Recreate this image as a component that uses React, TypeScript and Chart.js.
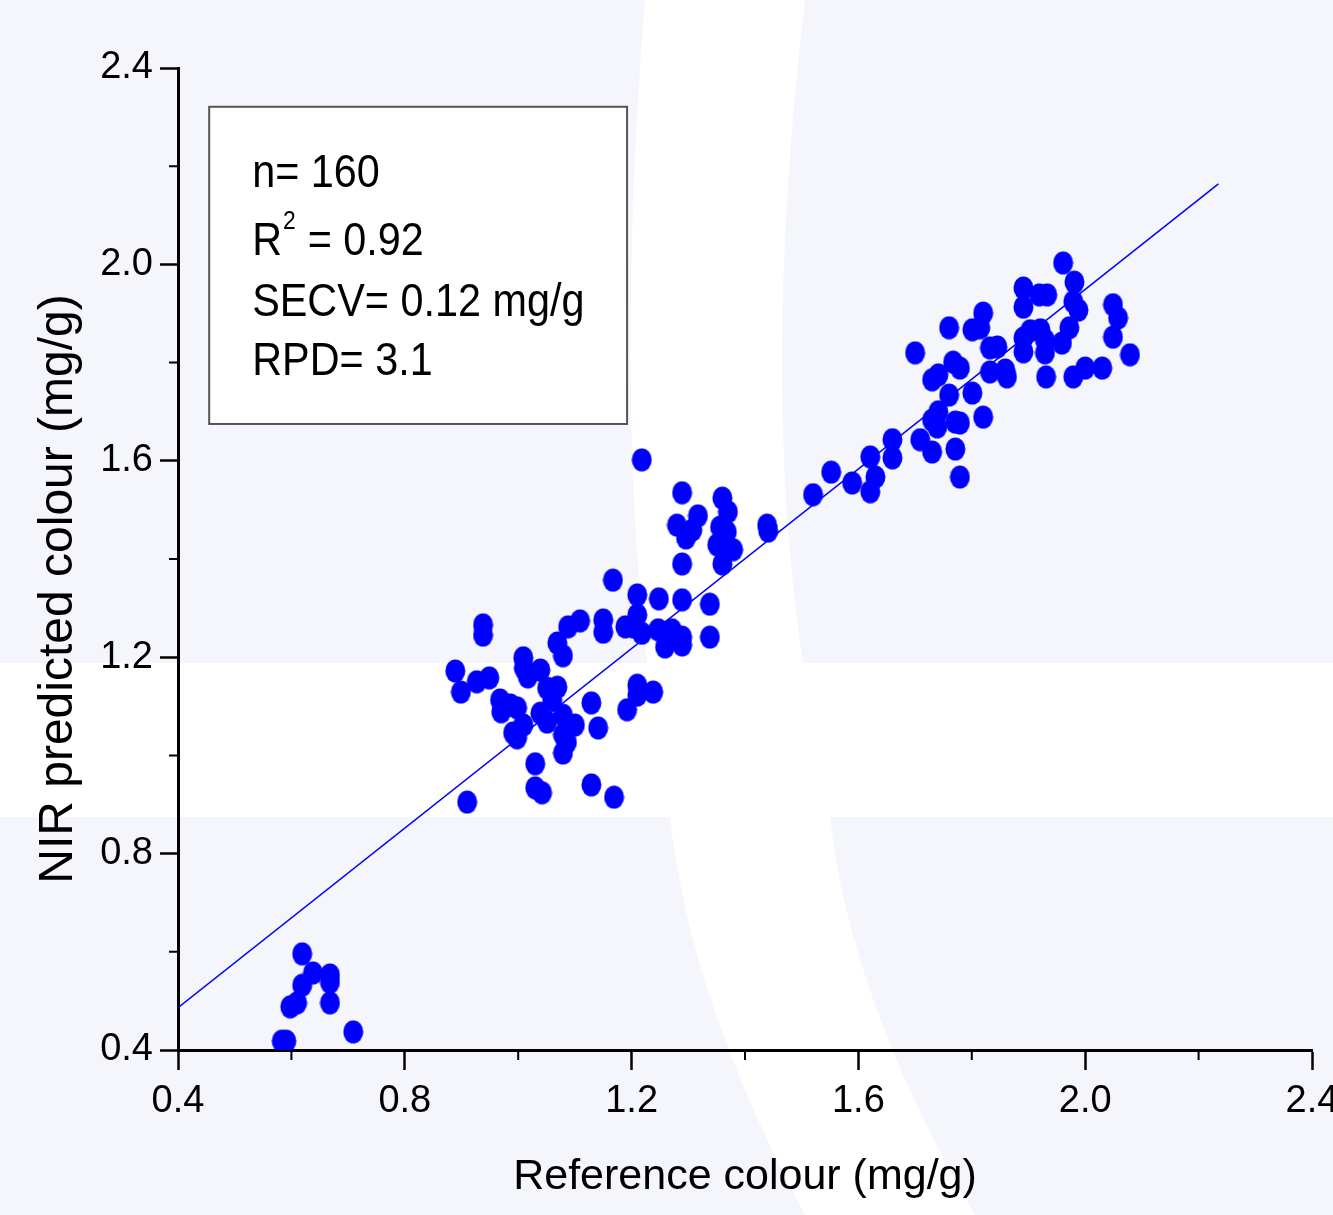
import React, { useEffect, useRef } from 'react';
import { Chart, registerables } from 'chart.js';

Chart.register(...registerables);

const FONT = "'Liberation Sans', Arial, Helvetica, sans-serif";

// Reference colour (mg/g) – x values
const referenceX = [
  // low cluster
  0.583, 0.591, 0.598, 0.610, 0.619, 0.619, 0.638, 0.668, 0.668, 0.668, 0.709,
  // ~1.0 cluster
  0.938, 0.938, 0.889, 0.899, 0.927, 0.949, 0.968, 0.970, 0.986, 0.998, 0.991, 0.998,
  1.009, 1.009, 1.010, 1.017, 1.039, 1.051, 1.069, 1.060, 1.039, 1.051, 1.079, 1.100,
  1.079, 1.086, 1.079, 1.030, 1.030, 1.042, 0.910, 1.069, 1.079, 1.088, 1.109,
  // ~1.25 cluster
  1.150, 1.150, 1.189, 1.129, 1.141, 1.129, 1.169, 1.192, 1.218, 1.289, 1.360, 1.370,
  1.317, 1.280, 1.296, 1.307, 1.356, 1.368, 1.351, 1.379, 1.360, 1.289, 1.167, 1.210,
  1.248, 1.289, 1.338, 1.210, 1.218, 1.247, 1.259, 1.271, 1.289, 1.289, 1.338, 1.210,
  1.210, 1.238, 1.439, 1.441, 1.203,
  // ~1.7 cluster
  1.520, 1.552, 1.589, 1.621, 1.630, 1.621, 1.660, 1.660, 1.700, 1.709, 1.730, 1.730,
  1.741, 1.730, 1.741, 1.739, 1.760, 1.767, 1.779, 1.771, 1.779, 1.771, 1.779, 1.801,
  1.820, 1.760, 1.801, 1.815, 1.820, 1.832, 1.845, 1.832, 1.859, 1.862,
  // ~1.95 cluster
  1.961, 1.981, 1.891, 1.891, 1.919, 1.933, 1.979, 1.988, 2.049, 2.058, 2.049, 2.079,
  1.891, 1.903, 1.921, 1.891, 1.929, 1.929, 1.959, 1.972, 1.931, 1.979, 2.000, 2.030,
];

// NIR predicted colour (mg/g) – y values
const predictedY = [
  0.418, 0.418, 0.488, 0.496, 0.532, 0.596, 0.557, 0.553, 0.538, 0.496, 0.437,
  1.266, 1.245, 1.172, 1.129, 1.150, 1.158, 1.113, 1.089, 1.103, 1.097, 1.046, 1.036,
  1.062, 1.199, 1.178, 1.160, 1.174, 1.137, 1.139, 1.113, 1.086, 1.068, 1.082, 1.062,
  1.042, 1.027, 1.005, 0.983, 0.934, 0.924, 0.905, 1.229, 1.203, 1.262, 1.274,
  1.276, 1.251, 1.262, 1.107, 1.056, 0.940, 0.915, 1.093, 1.602, 1.535, 1.524, 1.496,
  1.488, 1.469, 1.443, 1.459, 1.465, 1.455, 1.429, 1.419, 1.390, 1.390, 1.357, 1.327,
  1.319, 1.317, 1.308, 1.286, 1.249, 1.256, 1.221, 1.256, 1.241, 1.225, 1.241, 1.143,
  1.123, 1.129, 1.469, 1.457, 1.262,
  1.531, 1.577, 1.555, 1.608, 1.567, 1.537, 1.643, 1.606, 1.820, 1.643, 1.618, 1.765,
  1.775, 1.683, 1.700, 1.669, 1.734, 1.801, 1.789, 1.679, 1.677, 1.624, 1.567, 1.738,
  1.689, 1.871, 1.867, 1.871, 1.901, 1.830, 1.832, 1.781, 1.785, 1.771,
  2.003, 1.964, 1.952, 1.913, 1.938, 1.938, 1.924, 1.907, 1.918, 1.891, 1.852, 1.816,
  1.850, 1.865, 1.867, 1.822, 1.846, 1.820, 1.840, 1.871, 1.771, 1.771, 1.789, 1.789,
];

// regression line end points
const fitLineX = [0.4, 2.235];
const fitLineY = [0.486, 2.164];

// axes
const axisMin = 0.4;
const axisMax = 2.4;
const majorStep = 0.4;
const minorTicks = [0.6, 1.0, 1.4, 1.8, 2.2];
const xTitle = 'Reference colour (mg/g)';
const yTitle = 'NIR predicted colour (mg/g)';

// statistics box (corners in data units)
const statBoxX = [0.455, 1.192];
const statBoxY = [2.321, 1.675];
const statN = 'n= 160';
const statR2 = ' = 0.92';
const statSECV = 'SECV= 0.12 mg/g';
const statRPD = 'RPD= 3.1';

function makeDot(): HTMLCanvasElement {
  const c = document.createElement('canvas');
  c.width = 21;
  c.height = 24;
  const g = c.getContext('2d')!;
  g.fillStyle = '#0000ff';
  g.beginPath();
  g.ellipse(10.5, 12, 10, 11.5, 0, 0, Math.PI * 2);
  g.fill();
  return c;
}

const decorPlugin = {
  id: 'decor',
  beforeDraw(chart: any) {
    const ctx = chart.ctx as CanvasRenderingContext2D;
    const W = chart.width;
    const H = chart.height;
    ctx.save();
    ctx.fillStyle = '#f5f6fc';
    ctx.fillRect(0, 0, W, H);
    ctx.fillStyle = '#ffffff';
    ctx.fillRect(0, 663, W, 154);
    ctx.beginPath();
    ctx.moveTo(645, 0);
    ctx.quadraticCurveTo(615, 380, 647, 663);
    ctx.lineTo(803, 663);
    ctx.quadraticCurveTo(760, 380, 805, 0);
    ctx.closePath();
    ctx.fill();
    ctx.beginPath();
    ctx.moveTo(670, 817);
    ctx.quadraticCurveTo(690, 1000, 805, H);
    ctx.lineTo(975, H);
    ctx.quadraticCurveTo(850, 1000, 830, 817);
    ctx.closePath();
    ctx.fill();
    ctx.restore();
  },
  afterDraw(chart: any) {
    const ctx = chart.ctx as CanvasRenderingContext2D;
    const xs = chart.scales.x;
    const ys = chart.scales.y;
    const area = chart.chartArea;
    ctx.save();
    // minor ticks
    ctx.strokeStyle = '#000';
    ctx.lineWidth = 2;
    ctx.beginPath();
    for (const v of minorTicks) {
      const px = xs.getPixelForValue(v);
      ctx.moveTo(px, area.bottom);
      ctx.lineTo(px, area.bottom + 10);
      const py = ys.getPixelForValue(v);
      ctx.moveTo(area.left, py);
      ctx.lineTo(area.left - 9, py);
    }
    ctx.stroke();

    // y axis title
    ctx.save();
    ctx.translate(72, (area.top + area.bottom) / 2 + 30);
    ctx.rotate(-Math.PI / 2);
    ctx.font = `48px ${FONT}`;
    ctx.fillStyle = '#000';
    ctx.textAlign = 'center';
    ctx.textBaseline = 'alphabetic';
    ctx.fillText(yTitle, 0, 0);
    ctx.restore();

    // statistics box
    const bl = xs.getPixelForValue(statBoxX[0]);
    const br = xs.getPixelForValue(statBoxX[1]);
    const bt = ys.getPixelForValue(statBoxY[0]);
    const bb = ys.getPixelForValue(statBoxY[1]);
    ctx.fillStyle = '#ffffff';
    ctx.fillRect(bl, bt, br - bl, bb - bt);
    ctx.strokeStyle = '#555';
    ctx.lineWidth = 2;
    ctx.strokeRect(bl, bt, br - bl, bb - bt);

    ctx.fillStyle = '#000';
    ctx.textAlign = 'left';
    ctx.textBaseline = 'alphabetic';
    const tx = bl + 43;
    const line = (text: string, y: number) => {
      ctx.save();
      ctx.translate(tx, y);
      ctx.scale(0.88, 1);
      ctx.font = `47px ${FONT}`;
      ctx.fillText(text, 0, 0);
      ctx.restore();
    };
    line(statN, bt + 80);
    // R squared
    ctx.save();
    ctx.translate(tx, bt + 148);
    ctx.scale(0.88, 1);
    ctx.font = `47px ${FONT}`;
    ctx.fillText('R', 0, 0);
    ctx.font = `26px ${FONT}`;
    ctx.fillText('2', 35, -26);
    ctx.font = `47px ${FONT}`;
    ctx.fillText(statR2, 50, 0);
    ctx.restore();
    line(statSECV, bt + 209);
    line(statRPD, bt + 268);
    ctx.restore();
  },
};

export default function App() {
  const ref = useRef<HTMLCanvasElement>(null);
  useEffect(() => {
    const canvas = ref.current!;
    const dot = makeDot();
    const points = referenceX.map((x, i) => ({ x, y: predictedY[i] }));
    const fit = fitLineX.map((x, i) => ({ x, y: fitLineY[i] }));
    const tickFmt = (v: any) => Number(v).toFixed(1);
    const chart = new Chart(canvas, {
      type: 'scatter',
      data: {
        datasets: [
          {
            data: fit,
            showLine: true,
            borderColor: '#0000ff',
            borderWidth: 1.5,
            pointRadius: 0,
            fill: false,
          },
          {
            data: points,
            pointStyle: dot as any,
            pointRadius: 11,
            backgroundColor: '#0000ff',
            borderWidth: 0,
          },
        ],
      } as any,
      options: {
        responsive: false,
        animation: false,
        events: [],
        layout: { padding: { top: 68, right: 21, left: 0, bottom: 0 } },
        plugins: { legend: { display: false }, tooltip: { enabled: false } },
        scales: {
          x: {
            type: 'linear',
            min: axisMin,
            max: axisMax,
            ticks: {
              stepSize: majorStep,
              callback: tickFmt,
              font: { size: 38, family: FONT },
              color: '#000',
              padding: 9,
              maxRotation: 0,
              autoSkip: false,
            },
            grid: { drawOnChartArea: false, drawTicks: true, tickLength: 20, tickWidth: 2.5, tickColor: '#000' },
            border: { display: true, color: '#000', width: 3 },
            title: {
              display: true,
              text: xTitle,
              font: { size: 43, family: FONT },
              color: '#000',
              padding: { top: 0, bottom: 12 },
            },
            afterFit: (s: any) => {
              s.height = 165;
              s.paddingLeft = 0;
              s.paddingRight = 0;
            },
          },
          y: {
            type: 'linear',
            min: axisMin,
            max: axisMax,
            ticks: {
              stepSize: majorStep,
              callback: tickFmt,
              font: { size: 38, family: FONT },
              color: '#000',
              padding: 7,
              autoSkip: false,
            },
            grid: { drawOnChartArea: false, drawTicks: true, tickLength: 18, tickWidth: 2.5, tickColor: '#000' },
            border: { display: true, color: '#000', width: 3 },
            title: { display: false },
            afterFit: (s: any) => {
              s.width = 178;
              s.paddingTop = 0;
              s.paddingBottom = 0;
            },
          },
        },
      } as any,
      plugins: [decorPlugin],
    });
    return () => chart.destroy();
  }, []);
  return (
    <div style={{ position: 'absolute', left: 0, top: 0, width: 1333, height: 1215 }}>
      <canvas ref={ref} width={1333} height={1215} style={{ display: 'block' }} />
    </div>
  );
}
